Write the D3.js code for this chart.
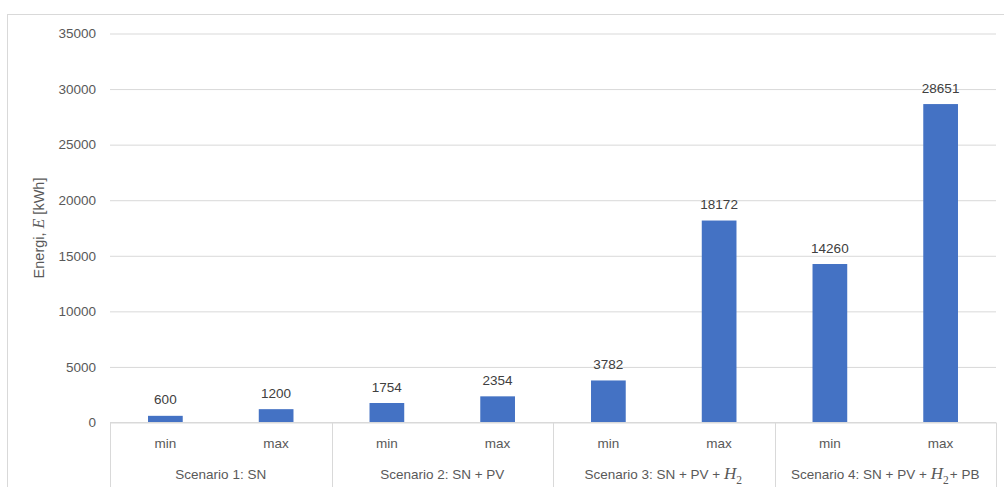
<!DOCTYPE html>
<html>
<head>
<meta charset="utf-8">
<script src="https://cdn.jsdelivr.net/npm/d3@7"></script>
<style>
  html, body { margin: 0; padding: 0; background: #fff; }
  svg { display: block; font-family: "Liberation Sans", "Noto Sans", sans-serif; }
</style>
</head>
<body>
<svg id="chart" width="1004" height="487"></svg>
<script>
// Energy use per scenario, lower and upper estimates
const scenarios = ["s1", "s2", "s3", "s4"];
const levels = ["min", "max"];
const minValues = [600, 1754, 3782, 14260];
const maxValues = [1200, 2354, 18172, 28651];
const yTicks = [0, 5000, 10000, 15000, 20000, 25000, 30000, 35000];
// Scenario labels: plain parts plus an optional math-styled H2
const scenarioLabels = [
  [{t: "Scenario 1: SN"}],
  [{t: "Scenario 2: SN + PV"}],
  [{t: "Scenario 3: SN + PV + "}, {h2: true}],
  [{t: "Scenario 4: SN + PV + "}, {h2: true}, {t: "+ PB"}]
];

const rows = [];
scenarios.forEach((s, i) => {
  rows.push({scenario: s, level: "min", value: minValues[i]});
  rows.push({scenario: s, level: "max", value: maxValues[i]});
});

const svg = d3.select("#chart");
const plotLeft = 110, plotRight = 996, plotTop = 33.5, plotBottom = 422.5;

// Chart frame
svg.append("rect")
  .attr("x", 7.5).attr("y", 14.5)
  .attr("width", 1000).attr("height", 500)
  .attr("fill", "#fff").attr("stroke", "#d9d9d9").attr("stroke-width", 1);

const y = d3.scaleLinear().domain([0, 35000]).range([plotBottom, plotTop]);
const x0 = d3.scaleBand().domain(scenarios).range([plotLeft, plotRight]);
const x1 = d3.scaleBand().domain(levels).range([0, x0.bandwidth()]);
const barW = x1.bandwidth() / 3.19;

// Gridlines and value axis labels
const yAxis = d3.axisLeft(y).tickValues(yTicks).tickSize(-(plotRight - plotLeft)).tickPadding(14)
  .tickFormat(d3.format("d"));
const gy = svg.append("g").attr("transform", `translate(${plotLeft},0)`).call(yAxis);
gy.select(".domain").remove();
gy.selectAll(".tick line").attr("stroke", "#d9d9d9").attr("stroke-width", 1);
gy.selectAll(".tick text").attr("fill", "#595959").attr("font-size", 13.5)
  .attr("font-family", "Liberation Sans, sans-serif");

// Y axis title
const yt = svg.append("text")
  .attr("transform", "translate(44,228) rotate(-90)")
  .attr("text-anchor", "middle")
  .attr("fill", "#595959").attr("font-size", 14.5);
yt.append("tspan").text("Energi, ");
yt.append("tspan").attr("font-style", "italic").attr("font-family", "Liberation Serif, serif").attr("font-size", 16).text("E");
yt.append("tspan").text(" [kWh]");

// Bars
svg.append("g").selectAll("rect").data(rows).join("rect")
  .attr("x", d => x0(d.scenario) + x1(d.level) + (x1.bandwidth() - barW) / 2)
  .attr("y", d => y(d.value))
  .attr("width", barW)
  .attr("height", d => y(0) - y(d.value))
  .attr("fill", "#4472c4");

// Value labels
svg.append("g").selectAll("text").data(rows).join("text")
  .attr("x", d => x0(d.scenario) + x1(d.level) + x1.bandwidth() / 2)
  .attr("y", d => y(d.value) - 11.5)
  .attr("text-anchor", "middle")
  .attr("fill", "#404040").attr("font-size", 13.5)
  .text(d => d.value);

// Category axis: baseline and group separators
svg.append("line").attr("x1", plotLeft).attr("x2", plotRight).attr("y1", plotBottom).attr("y2", plotBottom)
  .attr("stroke", "#d9d9d9");
const seps = scenarios.map(s => x0(s)).concat([plotRight]);
svg.append("g").selectAll("line").data(seps).join("line")
  .attr("x1", d => Math.round(d) + 0.5).attr("x2", d => Math.round(d) + 0.5)
  .attr("y1", plotBottom).attr("y2", 487)
  .attr("stroke", "#d9d9d9");

// Level labels
svg.append("g").selectAll("text").data(rows).join("text")
  .attr("x", d => x0(d.scenario) + x1(d.level) + x1.bandwidth() / 2)
  .attr("y", 448)
  .attr("text-anchor", "middle")
  .attr("fill", "#595959").attr("font-size", 13.5)
  .text(d => d.level);

// Scenario labels
scenarios.forEach((s, i) => {
  const t = svg.append("text")
    .attr("x", x0(s) + x0.bandwidth() / 2).attr("y", 479)
    .attr("text-anchor", "middle")
    .attr("fill", "#595959").attr("font-size", 13.5);
  scenarioLabels[i].forEach(p => {
    if (p.h2) {
      t.append("tspan").attr("font-style", "italic").attr("font-family", "Liberation Serif, serif")
        .attr("font-size", 17).text("H");
      t.append("tspan").attr("font-family", "Liberation Serif, serif").attr("font-size", 11.5)
        .attr("dy", 4.5).text("2");
      t.append("tspan").attr("dy", -4.5).text("\u200A");
    } else {
      t.append("tspan").text(p.t);
    }
  });
});
</script>
</body>
</html>
